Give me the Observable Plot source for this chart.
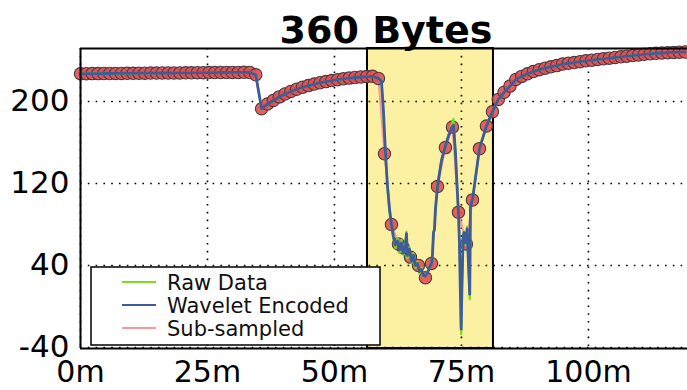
<!DOCTYPE html>
<html><head><meta charset="utf-8">
<script src="https://cdn.jsdelivr.net/npm/d3@7"></script>
<script src="https://cdn.jsdelivr.net/npm/@observablehq/plot@0.6"></script>
<style>
html,body{margin:0;padding:0;background:#fff;}
#chart{position:relative;width:687px;height:390px;overflow:hidden;}
</style></head><body><div id="chart"></div>
<script>
const title = "360 Bytes";
const xTicks = [0, 25, 50, 75, 100];
const yTicks = [-40, 40, 120, 200];
const xDomain = [0, 119.5];
const yDomain = [-41, 251.7];
const highlight = {start: 56.5, end: 81.3};
const legendLabels = ["Raw Data", "Wavelet Encoded", "Sub-sampled"];
const legendColors = ["#7ddc1f", "#3d5c99", "#f59a9a"];

// sub-sampled series (minutes, value)
const subT = [0, 1.15, 2.3, 3.45, 4.6, 5.75, 6.9, 8.05, 9.2, 10.35, 11.5, 12.65, 13.8, 14.95, 16.1, 17.25, 18.4, 19.55, 20.7, 21.85, 23.0, 24.15, 25.3, 26.45, 27.6, 28.75, 29.9, 31.05, 32.2, 33.35, 34.5,
  35.65, 36.8, 37.95, 39.1, 40.25, 41.4, 42.55, 43.7, 44.85, 46.0, 47.15, 48.3, 49.45, 50.6, 51.75, 52.9, 54.05, 55.2, 56.35, 57.5, 58.65,
  59.84, 61.22, 62.6, 63.58, 64.96, 66.54, 67.91, 69.09, 70.28, 71.85, 73.23, 74.41, 75.98, 77.17, 78.54, 79.92,
  81.1, 82.25, 83.4, 84.55, 85.7, 86.85, 88.0, 89.15, 90.3, 91.45, 92.6, 93.75, 94.9, 96.05, 97.2, 98.35, 99.5, 100.65, 101.8, 102.95, 104.1, 105.25, 106.4, 107.55, 108.7, 109.85, 111.0, 112.15, 113.3, 114.45, 115.6, 116.75, 117.9, 119.05];
const subV = [227, 227.1, 227.2, 227.2, 227.3, 227.3, 227.4, 227.4, 227.5, 227.5, 227.6, 227.6, 227.7, 227.7, 227.8, 227.8, 227.9, 227.9, 228, 228, 228.1, 228.1, 228.2, 228.2, 228.3, 228.3, 228.4, 228.4, 228.5, 228.3, 226,
  193, 197.5, 201, 204.5, 207.3, 209.8, 212, 213.9, 215.5, 217, 218.3, 219.4, 220.4, 221.3, 222.1, 222.8, 223.4, 223.9, 224.3, 224.6, 222.5,
  149, 80, 61, 57, 48, 40, 28, 42, 117, 155, 175, 92, 61, 104, 154, 176,
  190, 202, 209, 215, 221.5, 224.5, 227, 229.2, 231, 232.5, 233.8, 235, 236.5, 237.3, 238, 238.8, 239.7, 240.3, 241, 241.6, 242.3, 243, 243.6, 244.2, 244.8, 245.4, 246, 246.5, 247, 247.3, 247.6, 247.9, 248.1, 248.3];

// full-resolution detail inside the highlighted dip
const dipT = [59.25, 59.65, 60.04, 60.43, 60.83, 61.22, 61.61, 62.0, 62.4, 62.8, 63.19, 63.58, 63.98, 64.17, 64.37, 64.76, 65.16, 65.55, 65.94, 66.34, 66.73, 67.13, 67.52, 67.91, 68.31, 68.7, 69.09, 69.29, 69.49, 69.69, 69.88, 70.28, 70.67, 71.06, 71.46, 71.85, 72.24, 72.64, 73.03, 73.43, 73.82, 74.21, 74.41, 74.61, 74.8, 74.94, 75.1, 75.33, 75.49, 75.79, 76.12, 76.38, 76.63, 76.77, 77.1];
const waveDipV = [220, 190, 150, 118, 95, 80, 68, 60, 64, 55, 62, 52, 60, 71, 50, 56, 44, 50, 40, 42, 34, 36, 30, 30, 33, 38, 42, 50, 72, 75, 95, 117, 130, 142, 150, 157, 163, 169, 174, 177, 150, 110, 92, 60, 10, -22, 20, 67, 72, 62, 76, 40, 12, 97, 104];
const rawDipV = [221, 188, 148, 116, 93, 78, 66, 57, 67, 52, 65, 50, 62, 73, 47, 58, 42, 52, 38, 44, 32, 38, 29, 31, 34, 37, 43, 49, 73, 76, 96, 118, 131, 143, 151, 158, 164, 170, 176, 183, 150, 110, 92, 58, 6, -27, 18, 68, 73, 60, 78, 38, 7, 98, 104];

const sub = subT.map((t, i) => ({t, v: subV[i]}));
const before = sub.filter(d => d.t <= 58.65);
const after = sub.filter(d => d.t >= 77.17);
const wavelet = [...before, ...dipT.map((t, i) => ({t, v: waveDipV[i]})), ...after];
const raw = [...before, ...dipT.map((t, i) => ({t, v: rawDipV[i]})), ...after];

const plot = Plot.plot({
  width: 687, height: 390,
  marginLeft: 80, marginRight: 0, marginTop: 48, marginBottom: 42,
  style: {fontFamily: "'DejaVu Sans', sans-serif", fontSize: "31px", color: "black", background: "white", overflow: "visible"},
  x: {domain: xDomain, label: null},
  y: {domain: yDomain, label: null},
  marks: [
    Plot.rect([highlight], {x1: "start", x2: "end", y1: () => yDomain[0], y2: () => yDomain[1], fill: "#fcf0a2", stroke: "black", strokeWidth: 2}),
    Plot.gridX(xTicks, {stroke: "black", strokeOpacity: 1, strokeWidth: 1.6, strokeDasharray: "1.6,6.2"}),
    Plot.gridY(yTicks, {stroke: "black", strokeOpacity: 1, strokeWidth: 1.6, strokeDasharray: "1.6,6.2"}),
    Plot.axisX({ticks: xTicks, tickFormat: d => d + "m", tickSize: 0, tickPadding: 12, fontSize: 30, label: null}),
    Plot.axisY({ticks: yTicks, tickFormat: d => String(d), tickSize: 0, tickPadding: 11, fontSize: 31, label: null}),
    Plot.line(sub, {x: "t", y: "v", stroke: legendColors[2], strokeWidth: 2}),
    Plot.dot(sub, {x: "t", y: "v", r: 6.2, fill: "#e25050", fillOpacity: 0.9, stroke: "#4a3a42", strokeWidth: 1.1}),
    Plot.line(raw, {x: "t", y: "v", stroke: legendColors[0], strokeWidth: 2.2}),
    Plot.line(wavelet, {x: "t", y: "v", stroke: legendColors[1], strokeWidth: 2.8}),
    Plot.ruleX([xDomain[0]], {stroke: "black", strokeWidth: 2}),
    Plot.ruleY([yDomain[0], yDomain[1]], {stroke: "black", strokeWidth: 2})
  ]
});
document.getElementById("chart").appendChild(plot);

const svg = d3.select(plot);
svg.append("text").attr("x", 386).attr("y", 43).attr("text-anchor", "middle")
  .attr("font-family", "'DejaVu Sans', sans-serif").attr("font-weight", "bold").attr("font-size", 38)
  .attr("fill", "black").text(title);

const lg = svg.append("g");
lg.append("rect").attr("x", 91).attr("y", 267).attr("width", 289).attr("height", 78)
  .attr("fill", "white").attr("stroke", "black").attr("stroke-width", 1.5);
legendLabels.forEach((lab, i) => {
  const cy = 282 + i * 23;
  lg.append("line").attr("x1", 122).attr("x2", 156).attr("y1", cy).attr("y2", cy)
    .attr("stroke", legendColors[i]).attr("stroke-width", 2);
  lg.append("text").attr("x", 167).attr("y", cy + 7.5).attr("text-anchor", "start")
    .attr("font-family", "'DejaVu Sans', sans-serif").attr("font-size", 21).attr("fill", "#111").text(lab);
});
</script></body></html>
